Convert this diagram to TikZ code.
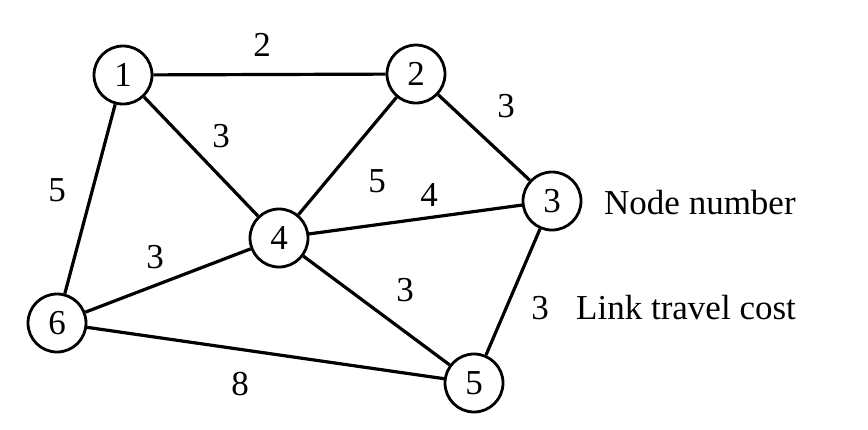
\documentclass[tikz,border=0pt]{standalone}
\usepackage{fontspec}
\setmainfont{Liberation Serif}
\begin{document}
\begin{tikzpicture}[x=1pt,y=-1pt,
  vert/.style={circle,draw,line width=2.8pt,minimum size=58pt,inner sep=0pt,font=\fontsize{35}{40}\selectfont},
  link/.style={line width=3.2pt},
  cost/.style={font=\fontsize{35}{40}\selectfont,inner sep=0pt},
  legend/.style={font=\fontsize{35}{40}\selectfont,inner sep=0pt,anchor=west}]
\useasboundingbox (0,0) rectangle (868,429);
\node[vert] (n1) at (123,75) {1};
\node[vert] (n2) at (416,74) {2};
\node[vert] (n3) at (552,201) {3};
\node[vert] (n4) at (279,238) {4};
\node[vert] (n5) at (474,383) {5};
\node[vert] (n6) at (57,323) {6};
\draw[link] (n1) -- (n2);
\draw[link] (n1) -- (n4);
\draw[link] (n1) -- (n6);
\draw[link] (n2) -- (n4);
\draw[link] (n2) -- (n3);
\draw[link] (n4) -- (n3);
\draw[link] (n4) -- (n6);
\draw[link] (n4) -- (n5);
\draw[link] (n3) -- (n5);
\draw[link] (n6) -- (n5);
\node[cost] (c12) at (262,45) {2};
\node[cost] (c23) at (506,106) {3};
\node[cost] (c14) at (221,136) {3};
\node[cost] (c16) at (57,190) {5};
\node[cost] (c24) at (377,181) {5};
\node[cost] (c34) at (429,195) {4};
\node[cost] (c46) at (155,257) {3};
\node[cost] (c45) at (405,290) {3};
\node[cost] (c35) at (540,308) {3};
\node[cost] (c56) at (240,384) {8};
\node[legend] (ln) at (604,203) {Node number};
\node[legend] (ll) at (576,308) {Link travel cost};
\end{tikzpicture}
\end{document}
